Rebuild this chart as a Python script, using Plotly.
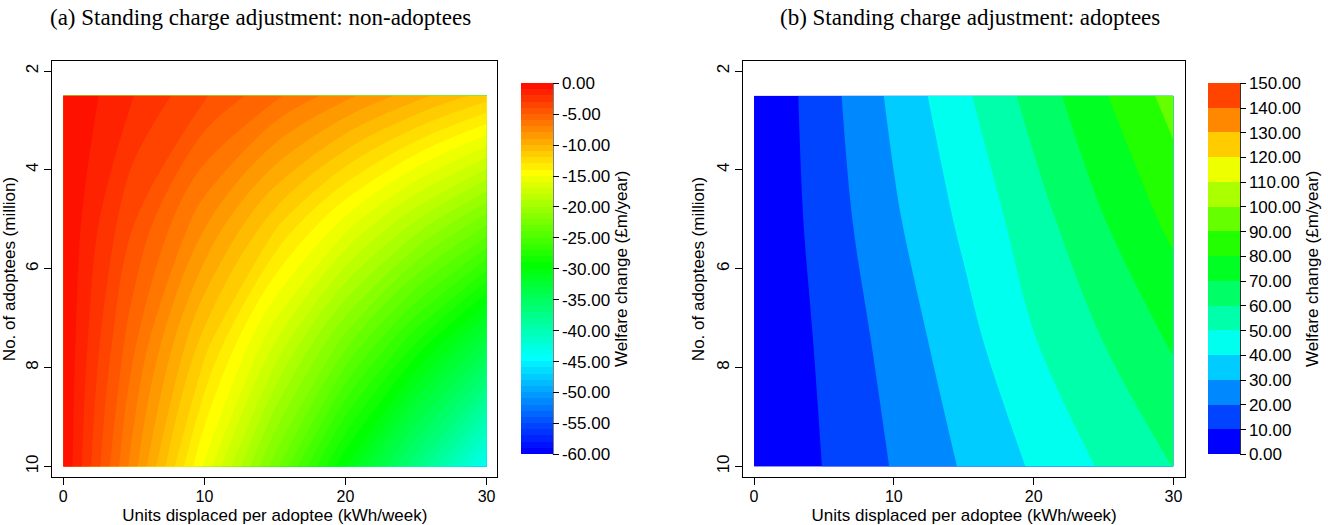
import colorsys
import plotly.graph_objects as go

# ---------------- data ----------------
units = [0, 5, 10, 15, 20, 25, 30]          # kWh/week displaced per adoptee
adoptees = [2.5, 5, 7.5, 10]                # million adoptees

nonadoptee_welfare = [
    [0.0, -2.0, -3.9, -5.8, -7.7, -9.6, -11.5],
    [0.0, -3.9, -7.7, -11.5, -15.2, -18.9, -22.5],
    [0.0, -5.8, -11.5, -17.0, -22.6, -28.0, -33.4],
    [0.0, -7.6, -15.2, -22.6, -30.0, -37.0, -43.8],
]
adoptee_welfare = [
    [0.0, 15.8, 32.4, 48.1, 63.8, 79.0, 93.9],
    [0.0, 14.2, 28.5, 42.1, 55.6, 69.7, 83.0],
    [0.0, 11.8, 23.9, 36.2, 49.4, 60.0, 71.2],
    [0.0, 10.3, 20.7, 31.0, 41.2, 51.2, 60.2],
]

x_ticks = [0, 10, 20, 30]
y_ticks = [2, 4, 6, 8, 10]
nonadoptee_cb_ticks = [0, -5, -10, -15, -20, -25, -30, -35, -40, -45, -50, -55, -60]
adoptee_cb_ticks = [0, 10, 20, 30, 40, 50, 60, 70, 80, 90, 100, 110, 120, 130, 140, 150]

titles = ["(a) Standing charge adjustment: non-adoptees",
          "(b) Standing charge adjustment: adoptees"]
x_title = "Units displaced per adoptee (kWh/week)"
y_title = "No. of adoptees (million)"
cb_title = "Welfare change (£m/year)"

# ---------------- styling ----------------
W, H = 1328, 525
SANS = "Liberation Sans, Arial, Helvetica, sans-serif"
SERIF = "Liberation Serif, Times New Roman, serif"
FS = 17


def band_scale(n):
    """Stepwise rainbow: band k (from the bottom) gets hue 240*(1-k/n)."""
    scale = []
    for k in range(n):
        r, g, b = colorsys.hsv_to_rgb((240.0 * (1 - k / n)) / 360.0, 1, 1)
        c = f"rgb({round(r*255)},{round(g*255)},{round(b*255)})"
        scale.append([k / n, c])
        scale.append([(k + 1) / n, c])
    return scale


def px_x(p):
    return p / W


def px_y(p):
    return 1 - p / H


panels = [
    dict(z=nonadoptee_welfare, zmin=-60, zmax=0, size=1, cbt=nonadoptee_cb_ticks,
         left=52.3, right=497.3, cbx=521, xr=[-0.78, 30.76]),
    dict(z=adoptee_welfare, zmin=0, zmax=150, size=10, cbt=adoptee_cb_ticks,
         left=743.3, right=1185.0, cbx=1208.3, xr=[-0.77, 30.83]),
]
top, bottom = 60.7, 477.3
cb_top, cb_bot = 83.3, 454.3

fig = go.Figure()
shapes = []
annotations = []
for i, p in enumerate(panels):
    n = int(round((p["zmax"] - p["zmin"]) / p["size"]))
    ax = "" if i == 0 else str(i + 1)
    fig.add_trace(go.Contour(
        x=units, y=adoptees, z=p["z"],
        xaxis="x" + ax, yaxis="y" + ax,
        colorscale=band_scale(n), zmin=p["zmin"], zmax=p["zmax"],
        autocontour=False,
        contours=dict(start=p["zmin"], end=p["zmax"], size=p["size"],
                      coloring="fill", showlines=False),
        line=dict(width=0),
        hoverinfo="skip",
        colorbar=dict(
            x=px_x(p["cbx"]), xanchor="left", xpad=0,
            y=px_y(cb_top), yanchor="top", ypad=0,
            len=cb_bot - cb_top, lenmode="pixels",
            thickness=32, thicknessmode="pixels",
            outlinewidth=0,
            tickmode="array", tickvals=p["cbt"],
            ticktext=[f"{v:.2f}" for v in p["cbt"]],
            ticks="outside", ticklen=6, tickcolor="black", tickwidth=1,
            tickfont=dict(family=SANS, size=FS, color="black"),
            title=dict(text=cb_title, side="right",
                       font=dict(family=SANS, size=FS, color="black")),
        ),
    ))
    common = dict(showgrid=False, zeroline=False, showline=True, mirror=True,
                  linecolor="black", linewidth=1, ticks="outside", ticklen=7,
                  tickcolor="black")
    fig.update_layout(**{
        "xaxis" + ax: dict(domain=[px_x(p["left"]), px_x(p["right"])], range=p["xr"],
                           tickvals=x_ticks, anchor="y" + ax,
                           tickfont=dict(family=SANS, size=16, color="black"),
                           ticklabelstandoff=-3,
                           title=dict(text=x_title, standoff=5,
                                      font=dict(family=SANS, size=FS, color="black")),
                           **common),
        "yaxis" + ax: dict(domain=[px_y(bottom), px_y(top)], range=[10.22, 1.79],
                           tickvals=y_ticks, tickangle=-90, anchor="x" + ax,
                           tickfont=dict(family=SANS, size=FS, color="black"),
                           title=dict(text=y_title, standoff=4,
                                      font=dict(family=SANS, size=FS, color="black")),
                           **common),
    })
    bar_right = p["cbx"] + 32
    shapes.append(dict(type="line", xref="paper", yref="paper",
                       x0=px_x(bar_right), x1=px_x(bar_right),
                       y0=px_y(cb_top), y1=px_y(cb_bot),
                       line=dict(color="black", width=1)))

annotations.append(dict(text=titles[0], x=px_x(260), y=px_y(17), xref="paper", yref="paper",
                        showarrow=False, xanchor="center", yanchor="middle",
                        font=dict(family=SERIF, size=23, color="black")))
annotations.append(dict(text=titles[1], x=px_x(970), y=px_y(17), xref="paper", yref="paper",
                        showarrow=False, xanchor="center", yanchor="middle",
                        font=dict(family=SERIF, size=23, color="black")))

fig.update_layout(
    width=W, height=H,
    margin=dict(l=0, r=0, t=0, b=0),
    paper_bgcolor="white", plot_bgcolor="white",
    shapes=shapes, annotations=annotations,
    showlegend=False,
)

fig.write_html("out.html")
